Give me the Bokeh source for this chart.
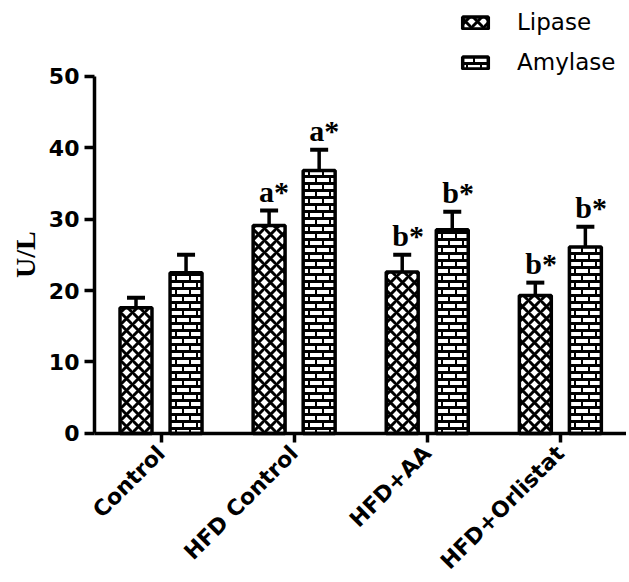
import math, zlib, struct, base64
from bokeh.plotting import figure
from bokeh.models import (Range1d, FixedTicker, ColumnDataSource, Legend, LegendItem,
                          ImageURLTexture)
from bokeh.embed import file_html
from bokeh.resources import INLINE

# ---- data ----
categories = ["Control", "HFD Control", "HFD+AA", "HFD+Orlistat"]
lipase = [17.6, 29.1, 22.6, 19.3]
lipase_sem = [1.4, 2.1, 2.4, 1.8]
amylase = [22.5, 36.8, 28.5, 26.1]
amylase_sem = [2.5, 2.9, 2.5, 2.8]
lipase_sig = ["", "a*", "b*", "b*"]
amylase_sig = ["", "a*", "b*", "b*"]
y_ticks = [0, 10, 20, 30, 40, 50]
y_title = "U/L"

# ---- brick texture (PNG tile) ----
def png_uri(w, h, black):
    rows = b""
    for y in range(h):
        rows += b"\x00" + b"".join((b"\x00\x00\x00\xff" if black(x, y) else b"\xff\xff\xff\xff") for x in range(w))
    def chunk(t, d):
        return struct.pack(">I", len(d)) + t + d + struct.pack(">I", zlib.crc32(t + d) & 0xffffffff)
    data = (b"\x89PNG\r\n\x1a\n" + chunk(b"IHDR", struct.pack(">IIBBBBB", w, h, 8, 6, 0, 0, 0))
            + chunk(b"IDAT", zlib.compress(rows)) + chunk(b"IEND", b""))
    return "data:image/png;base64," + base64.b64encode(data).decode()

brick_uri = png_uri(14, 14, lambda x, y: (y % 7 < 3) or (y < 7 and x < 2) or (y >= 7 and 7 <= x < 9))

n = len(categories)
centers = [i + 0.5 for i in range(n)]
off = 0.188
src = ColumnDataSource(dict(
    xl=[c - off for c in centers], xa=[c + off for c in centers],
    lipase=lipase, amylase=amylase,
    le=[v + s for v, s in zip(lipase, lipase_sem)],
    ae=[v + s for v, s in zip(amylase, amylase_sem)],
    ls=lipase_sig, as_=amylase_sig,
    pat=["brick"] * n,
))

W, H = 626, 580
p = figure(width=W, height=H, x_range=Range1d(-0.706, 3.997), y_range=Range1d(-20.56, 60.56),
           output_backend="svg", toolbar_location=None,
           min_border_left=0, min_border_right=0, min_border_top=0, min_border_bottom=0)
p.outline_line_color = None
p.xgrid.visible = False
p.ygrid.visible = False
p.background_fill_color = "white"
p.border_fill_color = "white"

# bars
rl = p.vbar(x="xl", top="lipase", width=0.24, source=src, fill_color="white",
            line_color="black", line_width=3.5, hatch_pattern="diagonal_cross",
            hatch_scale=12, hatch_weight=3, hatch_color="black")
ra = p.vbar(x="xa", top="amylase", width=0.24, source=src, fill_color="white",
            line_color="black", line_width=3.5, hatch_pattern="pat",
            hatch_extra={"brick": ImageURLTexture(url=brick_uri)})

# error bars
for xc, top, err in (("xl", "lipase", "le"), ("xa", "amylase", "ae")):
    p.segment(x0=xc, y0=top, x1=xc, y1=err, source=src, line_color="black", line_width=3.5)
    p.scatter(x=xc, y=err, source=src, marker="dash", size=18, line_width=4, line_color="black")

# significance letters
for xc, err, lab in (("xl", "le", "ls"), ("xa", "ae", "as_")):
    p.text(x=xc, y=err, text=lab, source=src, text_align="left", text_baseline="alphabetic",
           x_offset=-10, y_offset=-19, text_font="DejaVu Serif", text_font_style="bold",
           text_font_size="30px", text_color="black")

# axes (fixed at zero)
p.yaxis.fixed_location = 0
p.yaxis.ticker = FixedTicker(ticks=y_ticks)
p.yaxis.bounds = (0, 50)
p.yaxis.axis_line_width = 3.5
p.yaxis.major_tick_line_width = 3.5
p.yaxis.major_tick_out = 10
p.yaxis.major_tick_in = 0
p.yaxis.minor_tick_line_color = None
p.yaxis.major_label_text_font = "DejaVu Sans"
p.yaxis.major_label_text_font_style = "bold"
p.yaxis.major_label_text_font_size = "22px"
p.yaxis.major_label_text_color = "black"
p.yaxis.major_label_standoff = 5

p.xaxis.fixed_location = 0
p.xaxis.ticker = FixedTicker(ticks=centers)
p.xaxis.bounds = (0, 3.997)
p.xaxis.axis_line_width = 3.5
p.xaxis.major_tick_line_width = 3.5
p.xaxis.major_tick_out = 9
p.xaxis.major_tick_in = 0
p.xaxis.minor_tick_line_color = None
p.xaxis.major_label_overrides = {c: t for c, t in zip(centers, categories)}
p.xaxis.major_label_orientation = math.pi / 4
p.xaxis.major_label_text_font = "DejaVu Sans"
p.xaxis.major_label_text_font_style = "bold"
p.xaxis.major_label_text_font_size = "22px"
p.xaxis.major_label_text_color = "black"
p.xaxis.major_label_standoff = 7

# y title
p.text(x=[-0.518], y=[25], text=[y_title], angle=math.pi / 2, text_align="center",
       text_baseline="middle", text_font="DejaVu Serif", text_font_style="bold",
       text_font_size="28px", text_color="black")

legend = Legend(items=[LegendItem(label="Lipase", renderers=[rl]),
                       LegendItem(label="Amylase", renderers=[ra])],
                location=(459, 505), orientation="vertical",
                glyph_width=32, glyph_height=15, label_standoff=26, spacing=14,
                padding=0, margin=0, border_line_color=None, background_fill_alpha=0,
                label_text_font="DejaVu Sans", label_text_font_size="23px",
                label_text_color="black")
p.add_layout(legend)

open("out.html", "w").write(file_html(p, INLINE))
